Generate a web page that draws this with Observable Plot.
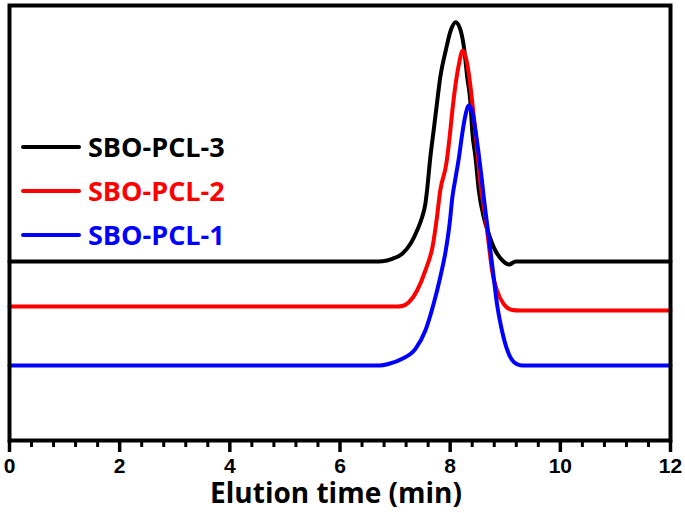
<!DOCTYPE html>
<html><head><meta charset="utf-8">
<script src="https://cdn.jsdelivr.net/npm/d3@7"></script>
<script src="https://cdn.jsdelivr.net/npm/@observablehq/plot@0.6"></script>
<style>
body{margin:0;background:#fff;}
#wrap{position:relative;width:685px;height:513px;}
#legend{position:absolute;left:21px;top:125px;font-family:"Open Sans";font-weight:700;font-size:27px;}
.row{display:flex;align-items:center;height:44px;line-height:44px;white-space:nowrap;}
.sw{width:60px;height:4px;border-radius:2px;margin-right:7px;}
</style></head><body>
<div id="wrap"><div id="legend"></div></div>
<script>
const seriesNames = ["SBO-PCL-3", "SBO-PCL-2", "SBO-PCL-1"];
const seriesColors = ["#000000", "#ff0000", "#0000ff"];

const time3 = [0, 3, 6.64, 6.77, 6.95, 7.13, 7.28, 7.40, 7.49, 7.55, 7.58, 7.64, 7.70, 7.76, 7.82, 7.92, 8.01, 8.10, 8.19, 8.25, 8.31, 8.37, 8.40, 8.46, 8.52, 8.61, 8.70, 8.82, 8.95, 9.07, 9.19, 9.4, 12];
const signal3 = [179, 179, 179, 179.3, 181.7, 186.7, 196.7, 210, 223.3, 236.7, 250, 283.3, 310, 337, 363.3, 390, 410, 418.3, 410, 393.3, 363.3, 337, 310, 283.3, 250, 223.3, 206.7, 190, 180, 176, 179, 179, 179];

const time2 = [0, 3, 7.05, 7.13, 7.25, 7.40, 7.55, 7.69, 7.76, 7.82, 7.93, 7.99, 8.04, 8.10, 8.16, 8.23, 8.31, 8.37, 8.43, 8.49, 8.55, 8.64, 8.70, 8.76, 8.85, 8.97, 9.13, 9.25, 12];
const signal2 = [134, 134, 134, 134.5, 138.3, 150, 170, 196.7, 223.3, 250, 276.7, 303.3, 330, 356.7, 376.7, 390, 376.7, 353.3, 323.3, 290, 256.7, 223.3, 196.7, 170, 150, 136.7, 130.5, 130, 130];

const time1 = [0, 3, 6.72, 6.89, 7.13, 7.37, 7.55, 7.70, 7.82, 7.92, 7.99, 8.04, 8.10, 8.16, 8.21, 8.27, 8.34, 8.41, 8.46, 8.51, 8.57, 8.61, 8.67, 8.73, 8.79, 8.85, 8.94, 9.04, 9.16, 9.31, 12];
const signal1 = [75, 75, 75, 76.7, 81.7, 91.7, 110, 136.7, 163.3, 190, 216.7, 243.3, 263.3, 283.3, 303.3, 323.3, 335, 326.7, 310, 290, 263.3, 243.3, 216.7, 190, 163.3, 136.7, 110, 90, 78.3, 75, 75];

const majorTicks = [0, 2, 4, 6, 8, 10, 12];
const minorTicks = [0.4, 0.8, 1.2, 1.6, 2.4, 2.8, 3.2, 3.6, 4.4, 4.8, 5.2, 5.6, 6.4, 6.8, 7.2, 7.6, 8.4, 8.8, 9.2, 9.6, 10.4, 10.8, 11.2, 11.6];
const xLabel = "Elution time (min)";

const times = [time3, time2, time1];
const signals = [signal3, signal2, signal1];
const rows = [];
seriesNames.forEach((name, i) => {
  times[i].forEach((t, j) => rows.push({series: name, t, v: signals[i][j]}));
});

const chart = Plot.plot({
  width: 685,
  height: 513,
  marginLeft: 9,
  marginRight: 15,
  marginTop: 5,
  marginBottom: 73,
  style: {background: "#fff", color: "#000"},
  x: {domain: [0, 12], label: null},
  y: {domain: [0, 435], axis: null},
  color: {domain: seriesNames, range: seriesColors},
  marks: [
    Plot.line(rows, {x: "t", y: "v", z: "series", stroke: "series", strokeWidth: 4, curve: "monotone-x"}),
    Plot.frame({stroke: "#000", strokeWidth: 4}),
    Plot.axisX(minorTicks, {tickSize: 7, strokeWidth: 3, tickFormat: () => "", label: null}),
    Plot.axisX(majorTicks, {tickSize: 12, strokeWidth: 3.5, tickFormat: () => "", label: null}),
    Plot.text(majorTicks, {x: d => d, text: d => String(d), frameAnchor: "bottom", lineAnchor: "top", dy: 18, fontSize: 21, fontWeight: "bold", fontFamily: "Liberation Sans", fill: "#000"}),
    Plot.text([xLabel], {text: d => d, frameAnchor: "bottom", dy: 62, dx: -4, fontSize: 28, fontWeight: "bold", fontFamily: "Open Sans", fill: "#000"})
  ]
});
document.getElementById("wrap").prepend(chart);

const legend = document.getElementById("legend");
seriesNames.forEach((name, i) => {
  const row = document.createElement("div");
  row.className = "row";
  const sw = document.createElement("div");
  sw.className = "sw";
  sw.style.background = seriesColors[i];
  const label = document.createElement("span");
  label.textContent = name;
  label.style.color = seriesColors[i];
  row.append(sw, label);
  legend.append(row);
});
</script>
</body></html>
